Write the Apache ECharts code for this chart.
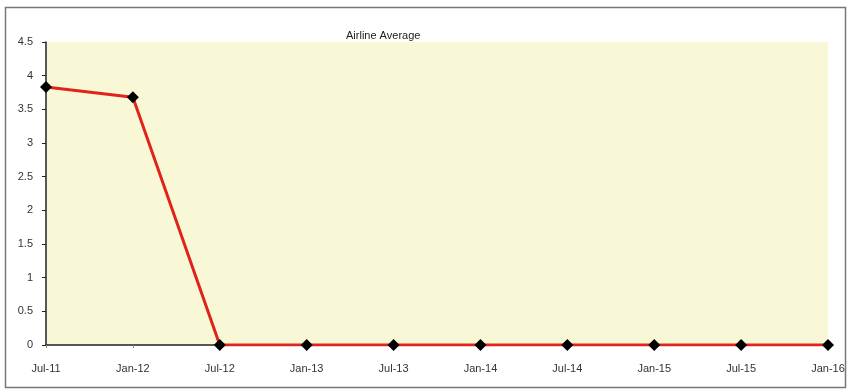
<!DOCTYPE html>
<html>
<head>
<meta charset="utf-8">
<script src="https://cdn.jsdelivr.net/npm/echarts@6/dist/echarts.min.js"></script>
<style>
  html, body { margin: 0; padding: 0; background: #fff; }
  #chart { width: 850px; height: 391px; }
</style>
</head>
<body>
<div id="chart"></div>
<script>
const categories = ["Jul-11", "Jan-12", "Jul-12", "Jan-13", "Jul-13", "Jan-14", "Jul-14", "Jan-15", "Jul-15", "Jan-16"];
const airlineAverage = [3.83, 3.68, 0, 0, 0, 0, 0, 0, 0, 0];

const font = "'Liberation Sans Narrow', 'Liberation Sans', Arial, sans-serif";

const chart = echarts.init(document.getElementById("chart"));
chart.setOption({
  animation: false,
  textStyle: { fontFamily: font },
  title: {
    text: "Airline Average",
    left: 341,
    top: 25,
    textStyle: { fontSize: 11, fontWeight: "normal", color: "#222", fontFamily: font },
  },
  graphic: [
    {
      type: "rect",
      shape: { x: 5.5, y: 7.5, width: 840, height: 380 },
      style: { fill: "none", stroke: "#777", lineWidth: 1.5 },
      z: -10,
    },
  ],
  grid: {
    left: 46,
    right: 22,
    top: 42,
    bottom: 46,
    show: true,
    backgroundColor: "#f9f8d6",
    borderWidth: 0,
  },
  xAxis: {
    type: "category",
    data: categories,
    boundaryGap: false,
    axisLine: { lineStyle: { color: "#222", width: 1.5 } },
    axisTick: { show: true, length: 3, lineStyle: { color: "#888" } },
    axisLabel: { fontSize: 11, color: "#333", margin: 18, fontFamily: font },
  },
  yAxis: {
    type: "value",
    min: 0,
    max: 4.5,
    interval: 0.5,
    axisLine: { show: true, lineStyle: { color: "#222", width: 1.5 } },
    axisTick: { show: true, length: 4, lineStyle: { color: "#222" } },
    axisLabel: { fontSize: 11, color: "#333", margin: 13, fontFamily: font },
    splitLine: { show: false },
  },
  series: [
    {
      name: "Airline Average",
      type: "line",
      data: airlineAverage,
      symbol: "diamond",
      symbolSize: 12,
      itemStyle: { color: "#000" },
      lineStyle: { color: "#e0241c", width: 3 },
      z: 5,
    },
  ],
});
</script>
</body>
</html>
